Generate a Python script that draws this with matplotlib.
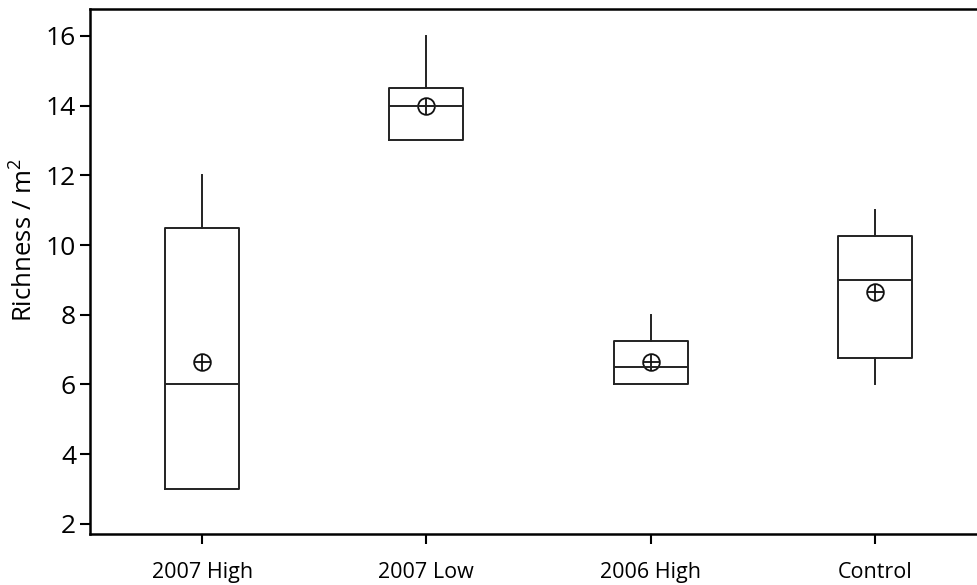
"""
Species richness per plot, by treatment.
"""

import numpy as np
import matplotlib
matplotlib.use("Agg")
import matplotlib.pyplot as plt

plt.rcParams["font.family"] = ["Open Sans", "DejaVu Sans"]

groups = ["2007 High", "2007 Low", "2006 High", "Control"]
whisker_low = [3.0, 13.0, 6.0, 6.0]
q1 = [3.0, 13.0, 6.0, 6.75]
median = [6.0, 14.0, 6.5, 9.0]
q3 = [10.5, 14.5, 7.25, 10.25]
whisker_high = [12.0, 16.0, 8.0, 11.0]
mean = [6.65, 14.0, 6.65, 8.65]

stats = []
for i, name in enumerate(groups):
    stats.append(dict(label=name, whislo=whisker_low[i], q1=q1[i], med=median[i],
                      q3=q3[i], whishi=whisker_high[i], fliers=[]))

fig = plt.figure(figsize=(9.77, 5.85), dpi=100)
ax = fig.add_axes([90 / 977, 1 - 534 / 585, 897 / 977, (534 - 9) / 585])

pos = np.arange(1, len(groups) + 1)
line = dict(color="#222222", linewidth=1.4)
ax.bxp(stats, positions=pos, widths=0.33, showcaps=False, showfliers=False,
       boxprops=line, medianprops=line, whiskerprops=line)

# mean symbol: open circle with a cross inside
ax.plot(pos, mean, "o", ms=12, mfc="none", mec="#111111", mew=1.3, ls="none")
ax.plot(pos, mean, "+", ms=12, mec="#111111", mew=1.3, ls="none")

ax.set_xlim(0.5, 4.5)
ax.set_ylim(1.71, 16.77)
ax.set_yticks([2, 4, 6, 8, 10, 12, 14, 16])
ax.set_xticks(pos)
ax.set_xticklabels(groups, fontsize=15.5)
ax.tick_params(axis="y", labelsize=19, length=7, width=1.5, pad=3)
ax.tick_params(axis="x", length=7, width=1.5, pad=13)
ax.set_ylabel(r"Richness / m$^{\mathregular{2}}$", fontsize=18.5)
ax.yaxis.set_label_coords(-0.058, 0.56)

for side in ["left", "bottom", "top"]:
    ax.spines[side].set_linewidth(1.8)
ax.spines["right"].set_visible(False)

fig.savefig("out.png", dpi=100)
